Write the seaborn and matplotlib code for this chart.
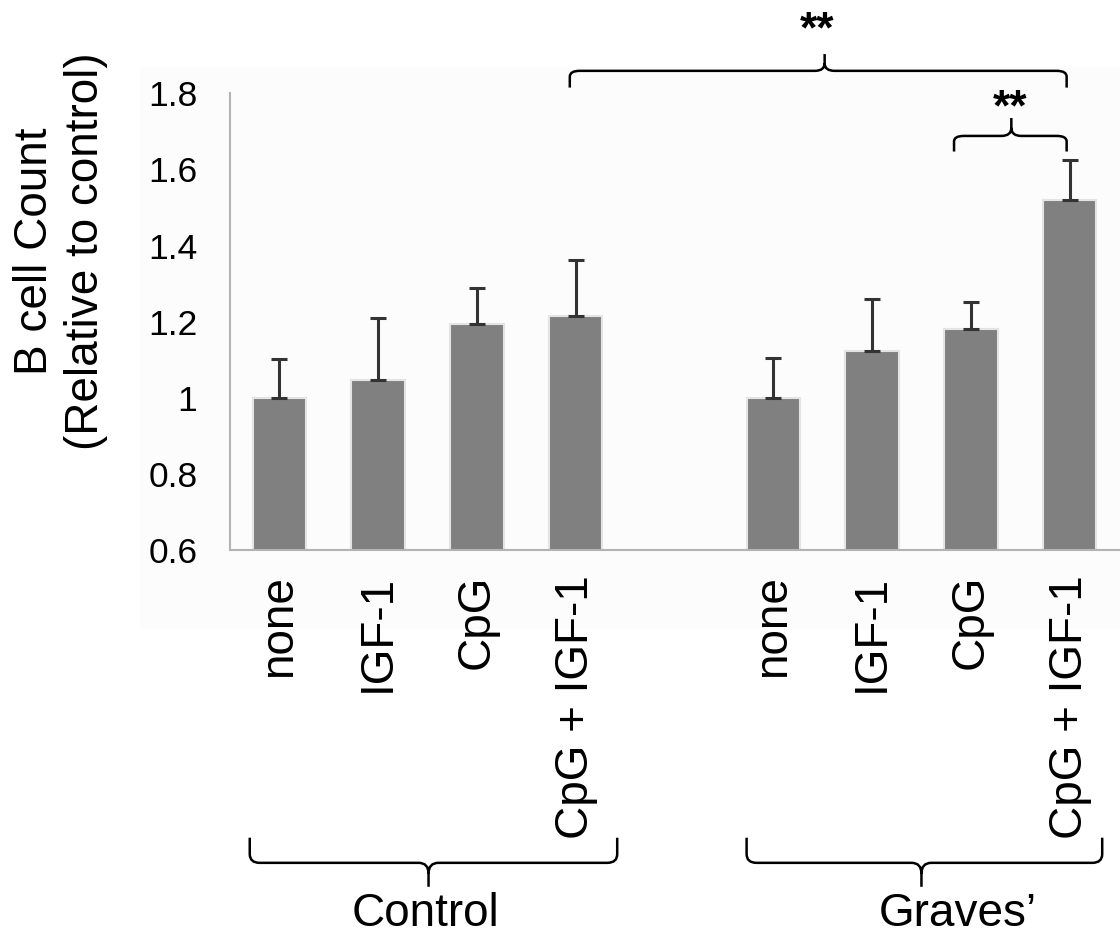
import matplotlib
matplotlib.use("Agg")
import numpy as np
import pandas as pd
import matplotlib.pyplot as plt
import seaborn as sns
from matplotlib.path import Path
from matplotlib.patches import PathPatch, Rectangle

# -----------------------------
# data
# -----------------------------
treatments = ["none", "IGF-1", "CpG", "CpG + IGF-1"]
groups = ["Control", "Graves’"]
control_mean = [1.00, 1.047, 1.195, 1.215]
control_err = [0.102, 0.163, 0.093, 0.146]
graves_mean = [1.00, 1.124, 1.180, 1.520]
graves_err = [0.104, 0.135, 0.072, 0.105]
y_ticks = [0.6, 0.8, 1.0, 1.2, 1.4, 1.6, 1.8]
sig_label = "**"

# -----------------------------
# table for seaborn
# -----------------------------
keys = [f"{g}|{t}" for g in groups for t in treatments]
df = pd.DataFrame({
    "key": keys,
    "treatment": treatments * 2,
    "mean": control_mean + graves_mean,
    "err": control_err + graves_err,
})
order = keys[:4] + ["gap"] + keys[4:]
df["pos"] = [order.index(k) for k in df["key"]]

sns.set_style("white")
plt.rcParams["font.family"] = ["Liberation Sans", "DejaVu Sans"]
plt.rcParams["text.color"] = "black"
plt.rcParams["xtick.color"] = "black"
plt.rcParams["ytick.color"] = "black"

fig = plt.figure(figsize=(11.2, 9.35), dpi=100)
# faint grey panel behind the chart, as in the source image
fig.patches.append(Rectangle((0.125, 0.328), 0.875, 0.60, transform=fig.transFigure,
                             color="#fcfcfc", zorder=-5))
ax = fig.add_axes([230 / 1120, 1 - 550 / 935, 889 / 1120, 456.7 / 935])
ax.set_zorder(2)
ax.patch.set_alpha(0)

sns.barplot(data=df, x="key", y="mean", order=order, color="#808080", saturation=1,
            width=0.54, errorbar=None, edgecolor="#e4e4e4", linewidth=1.5, ax=ax)
ax.errorbar(df["pos"], df["mean"], yerr=[np.zeros(len(df)), df["err"]], fmt="none",
            ecolor="#333333", elinewidth=2.2, capsize=5.5, capthick=2.2, zorder=5)

ax.set_xlim(-0.5, 8.5)
ax.set_ylim(0.6, 1.8)
ax.set_yticks(y_ticks)
ax.set_yticklabels([f"{v:g}" for v in y_ticks], fontsize=25.5)
ax.set_xticks(range(len(order)))
ax.set_xticklabels(treatments + [""] + treatments, rotation=90, fontsize=33, va="top")
ax.tick_params(axis="x", length=0, pad=18)
ax.tick_params(axis="y", direction="out", length=8.5, width=1.5, color="#b3b3b3", pad=15)
ax.set_xlabel("")
ax.set_ylabel("")
for side in ["top", "right"]:
    ax.spines[side].set_visible(False)
for side in ["left", "bottom"]:
    ax.spines[side].set_color("#b3b3b3")
    ax.spines[side].set_linewidth(1.5)

fig.text(0.054, 0.7316, "B cell Count\n(Relative to control)", rotation=90,
         ha="center", va="center", multialignment="center", fontsize=33, linespacing=1.2)


# -----------------------------
# curly brackets
# -----------------------------
def brace(x0, x1, xm, y, depth, tip, rx=0.1):
    # depth: where the two ends go, tip: where the middle point goes
    verts = [(x0, y + depth), (x0, y + depth * 0.35), (x0, y), (x0 + rx, y),
             (xm - rx, y), (xm, y), (xm, y + tip * 0.45), (xm, y + tip),
             (xm, y + tip * 0.45), (xm, y), (xm + rx, y),
             (x1 - rx, y), (x1, y), (x1, y + depth * 0.35), (x1, y + depth)]
    codes = [Path.MOVETO, Path.LINETO, Path.CURVE3, Path.CURVE3,
             Path.LINETO, Path.CURVE3, Path.CURVE3, Path.LINETO,
             Path.MOVETO, Path.CURVE3, Path.CURVE3,
             Path.LINETO, Path.CURVE3, Path.CURVE3, Path.LINETO]
    ax.add_patch(PathPatch(Path(verts, codes), fill=False, lw=1.8, edgecolor="black",
                           clip_on=False, capstyle="butt", joinstyle="round"))


# significance brackets above the bars
brace(2.94, 7.97, 5.52, 1.859, -0.044, 0.044)
ax.text(5.44, 1.935, sig_label, ha="center", va="baseline", fontsize=32,
        fontweight="bold", clip_on=False)
brace(6.83, 7.97, 7.41, 1.688, -0.041, 0.047)
ax.text(7.40, 1.728, sig_label, ha="center", va="baseline", fontsize=32,
        fontweight="bold", clip_on=False)

# group braces under the tick labels
brace(-0.30, 3.42, 1.51, -0.222, 0.066, -0.063)
ax.text(1.48, -0.388, groups[0], ha="center", va="baseline", fontsize=33, clip_on=False)
brace(4.73, 8.33, 6.50, -0.222, 0.066, -0.063)
ax.text(6.87, -0.388, groups[1], ha="center", va="baseline", fontsize=33, clip_on=False)

fig.savefig("out.png", dpi=100)
